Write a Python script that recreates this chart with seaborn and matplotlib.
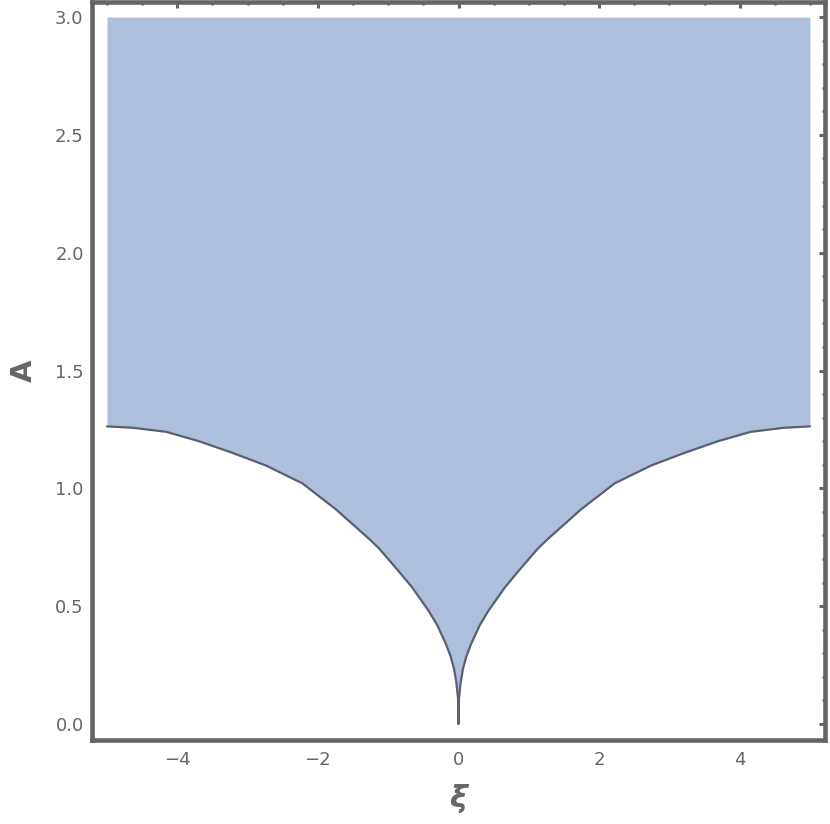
import numpy as np
import pandas as pd
import seaborn as sns
import matplotlib
matplotlib.use("Agg")
import matplotlib.pyplot as plt
from matplotlib.ticker import MultipleLocator

# Boundary curve (left half, then right half)
xi_left = [-5.0, -4.63, -4.16, -3.69, -3.21, -2.74, -2.22, -1.74, -1.27, -1.13,
           -0.87, -0.66, -0.42, -0.30, -0.18, -0.11, -0.064, -0.03, -0.007, 0.0]
A_left = [1.263, 1.257, 1.240, 1.200, 1.150, 1.097, 1.021, 0.910, 0.785, 0.745,
          0.655, 0.580, 0.478, 0.418, 0.340, 0.285, 0.235, 0.175, 0.110, 0.0]
xi_right = [0.007, 0.03, 0.064, 0.11, 0.18, 0.30, 0.42, 0.66, 0.87, 1.13,
            1.27, 1.74, 2.22, 2.74, 3.21, 3.69, 4.16, 4.63, 5.0]
A_right = [0.110, 0.175, 0.235, 0.285, 0.340, 0.418, 0.478, 0.580, 0.655, 0.745,
           0.785, 0.910, 1.021, 1.097, 1.150, 1.200, 1.240, 1.257, 1.263]
A_top = 3.0

x_ticks = [-4, -2, 0, 2, 4]
y_ticks = [0.0, 0.5, 1.0, 1.5, 2.0, 2.5, 3.0]

df = pd.DataFrame({"xi": xi_left + xi_right, "A": A_left + A_right})

sns.set_theme(style="white")
fig = plt.figure(figsize=(8.30, 8.24), dpi=100)
ax = fig.add_axes([92 / 830, 1 - 740 / 824, (825 - 92) / 830, (740 - 2) / 824])

fill_col = "#aebfdc"
frame_col = "#656565"
ax.fill_between(df["xi"], df["A"], A_top, color=fill_col, lw=0, zorder=1)
sns.lineplot(data=df, x="xi", y="A", sort=False, color="#5a606d", lw=1.6,
             ax=ax, zorder=2)

ax.set_xlim(-5.213, 5.213)
ax.set_ylim(-0.068, 3.064)
ax.set_xticks(x_ticks)
ax.set_xticklabels(["\u22124", "\u22122", "0", "2", "4"])
ax.set_yticks(y_ticks)
ax.set_yticklabels([f"{v:.1f}" for v in y_ticks])
ax.xaxis.set_minor_locator(MultipleLocator(0.5))
ax.yaxis.set_minor_locator(MultipleLocator(0.1))

for s in ax.spines.values():
    s.set_color(frame_col)
    s.set_linewidth(3.3)
ax.tick_params(which="both", direction="in", top=True, right=True,
               color=frame_col, labelcolor="#666666", labelsize=13)
ax.tick_params(which="major", length=4.5, width=2.2)
ax.tick_params(which="minor", length=2.5, width=1.8)
ax.tick_params(axis="x", which="major", pad=8)
ax.tick_params(axis="y", which="major", pad=6)

ax.set_xlabel("\u03be", fontsize=22, fontweight="bold", color="#666666",
              fontstyle="italic", labelpad=11)
ax.set_ylabel("A", fontsize=21, fontweight="bold", color="#666666", labelpad=12)
ax.grid(False)

fig.savefig("out.png", dpi=100)
